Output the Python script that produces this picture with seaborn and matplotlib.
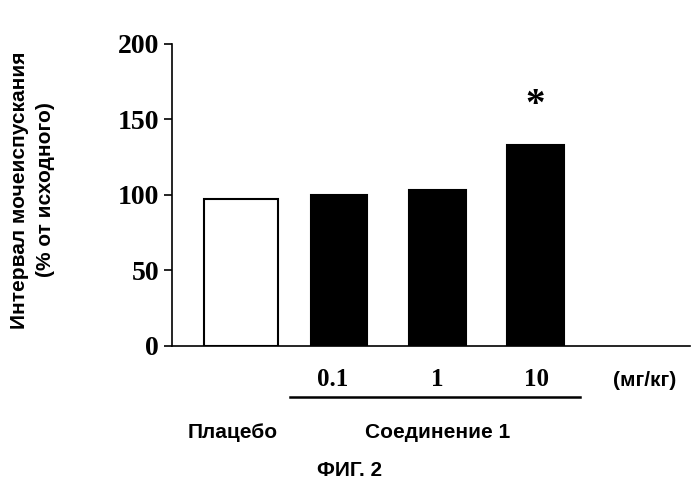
import matplotlib
matplotlib.use("Agg")
import matplotlib.pyplot as plt
import seaborn as sns
import pandas as pd

groups = ["Плацебо", "0.1", "1", "10"]
values = [97, 100, 103, 133]
colors = ["white", "black", "black", "black"]
yticks = [0, 50, 100, 150, 200]

df = pd.DataFrame({"g": groups, "v": values})
fig = plt.figure(figsize=(7, 4.88), dpi=100)
ax = fig.add_axes([0.246, 0.291, 0.74, 0.619])
sns.barplot(data=df, x="g", y="v", hue="g", palette=colors, legend=False,
            edgecolor="black", linewidth=1.5, width=0.58, ax=ax)
ax.patches[0].set_width(0.76)
ax.patches[0].set_x(-0.38)
ax.set_xlim(-0.70, 4.58)
ax.set_ylim(0, 200)
ax.set_yticks(yticks)
ax.set_yticklabels([str(t) for t in yticks], fontfamily="Liberation Serif",
                   fontweight="bold", fontsize=20)
ax.tick_params(axis="y", length=6, width=1.2)
ax.set_xticks([])
ax.set_xlabel("")
ax.set_ylabel("")
for s in ["top", "right"]:
    ax.spines[s].set_visible(False)
ax.spines["left"].set_linewidth(1.2)
ax.spines["bottom"].set_linewidth(1.2)
ax.text(3, 147, "*", ha="center", va="bottom", fontsize=28, fontweight="bold",
        fontfamily="Liberation Serif")

serif = dict(fontfamily="Liberation Serif", fontweight="bold", fontsize=18)
sans = dict(fontfamily="Liberation Sans", fontweight="bold", fontsize=15)
for x, lab in zip([333, 437, 536], groups[1:]):
    fig.text(x/700, 1-380/488, lab, ha="center", va="center", **serif)
fig.text(645/700, 1-381/488, "(мг/кг)", ha="center", va="center", **sans)
fig.add_artist(plt.Line2D([290/700, 580/700], [1-397/488]*2, color="black", lw=1.8))
fig.text(233/700, 1-432/488, "Плацебо", ha="center", va="center", **sans)
fig.text(438/700, 1-432/488, "Соединение 1", ha="center", va="center", **sans)
fig.text(350/700, 1-470/488, "ФИГ. 2", ha="center", va="center", **sans)
fig.text(20/700, 1-190/488, "Интервал мочеиспускания", rotation=90,
         ha="center", va="center", **sans)
fig.text(46/700, 1-190/488, "(% от исходного)", rotation=90,
         ha="center", va="center", **sans)
fig.savefig("out.png", dpi=100)
